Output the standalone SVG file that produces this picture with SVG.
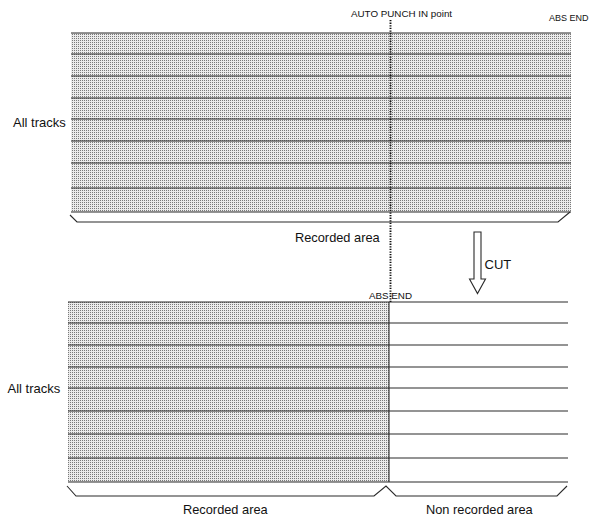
<svg xmlns="http://www.w3.org/2000/svg" width="589" height="519" viewBox="0 0 589 519">
<defs>
<pattern id="stip" width="2" height="2" patternUnits="userSpaceOnUse">
<rect width="2" height="2" fill="#ebebeb"/>
<rect width="1" height="1" fill="#7a7a7a"/>
</pattern>
<style>
.trk{stroke:#2a2a2a;stroke-width:1.1;fill:none}
.brk{stroke:#2a2a2a;stroke-width:1.1;fill:none;stroke-linejoin:miter}
.dot{stroke:#111;stroke-width:1.9;stroke-dasharray:1.3 1.3;fill:none}
text{font-family:"Liberation Sans",Arial,sans-serif;fill:#111}
.lbl{font-size:13px}
.sm{font-size:9.8px}
</style>
</defs>
<rect width="589" height="519" fill="#fff"/>

<g id="top-tracks">
<rect x="71" y="33" width="500" height="179" fill="url(#stip)"/>
<path class="trk" d="M71,33H571M71,54H571M71,76H571M71,98H571M71,119H571M71,141H571M71,163H571M71,188H571M71,212H571"/>
<text class="lbl" x="13" y="127">All tracks</text>
</g>

<g id="top-recorded-area">
<path class="brk" d="M70,215L77,222H558L570,212"/>
<text class="lbl" x="295" y="241.5" style="font-size:12.8px">Recorded area</text>
</g>

<g id="auto-punch-in">
<text class="sm" x="351" y="17">AUTO PUNCH IN point</text>
</g>

<g id="top-abs-end">
<text x="549" y="21" style="font-size:9px">ABS END</text>
</g>

<g id="cut-arrow">
<polygon points="474,232 481,232 481,279 485.5,279 477.5,293.5 469.5,279 474,279" fill="#fff" stroke="#2a2a2a" stroke-width="1.1"/>
<text class="lbl" x="484.5" y="269">CUT</text>
</g>

<g id="bottom-tracks">
<rect x="68" y="302" width="321" height="180" fill="url(#stip)"/>
<path class="trk" d="M68,302H568M68,323H568M68,345H568M68,367H568M68,388H568M68,411H568M68,434H568M68,458H568M68,482H568"/>
<text class="lbl" x="7.5" y="393">All tracks</text>
</g>

<g id="bottom-abs-end">
<text class="sm" x="369" y="299">ABS END</text>
</g>

<g id="bottom-recorded-area">
<text class="lbl" x="183" y="514" style="font-size:12.8px">Recorded area</text>
</g>

<g id="non-recorded-area">
<text class="lbl" x="426" y="513.5" style="font-size:12.8px">Non recorded area</text>
</g>

<g id="connectors">
<path class="dot" d="M390.5,20V302"/>
<path class="trk" d="M389,302V482"/>
<path class="brk" d="M67,486L76,496H374L386,486L396,496H557L567,486"/>
</g>
</svg>
